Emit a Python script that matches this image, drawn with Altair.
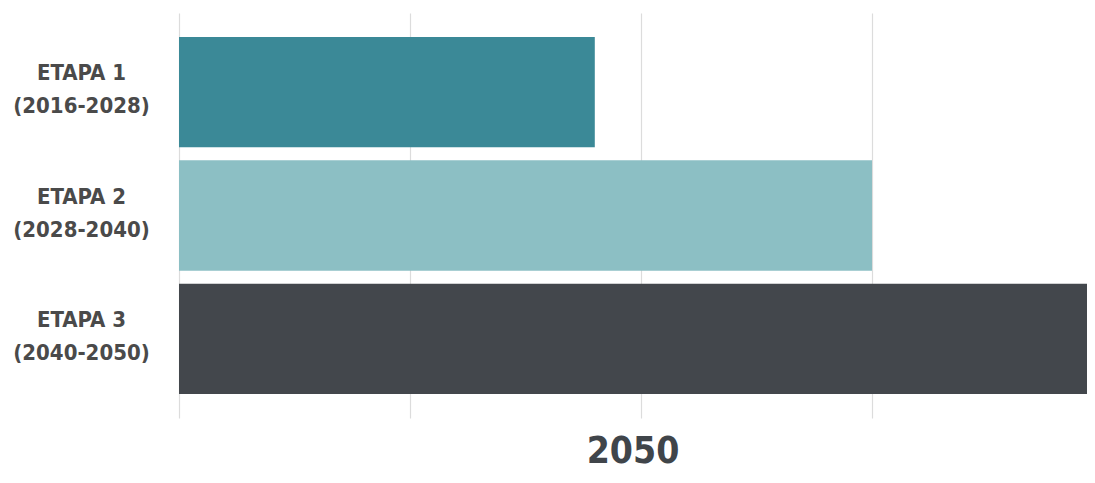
import altair as alt
import pandas as pd

stages = ["ETAPA 1|(2016-2028)", "ETAPA 2|(2028-2040)", "ETAPA 3|(2040-2050)"]
values = [45, 75, 100]
colors = ["#3b8997", "#8cbfc4", "#43474c"]
grid_values = [0, 25, 50, 75]
title_text = "2050"

df = pd.DataFrame({"stage": stages, "value": values, "color": colors})

FONT = "DejaVu Sans Condensed, DejaVu Sans, sans-serif"

chart = (
    alt.Chart(df)
    .mark_bar(clip=True)
    .encode(
        x=alt.X(
            "value:Q",
            scale=alt.Scale(domain=[0, 98.27], nice=False, zero=True),
            axis=alt.Axis(
                values=grid_values,
                labels=False,
                ticks=False,
                domain=False,
                grid=True,
                gridColor="#dcdcdc",
                gridWidth=1.2,
                title=None,
            ),
        ),
        y=alt.Y(
            "stage:N",
            sort=stages,
            scale=alt.Scale(paddingInner=0.106, paddingOuter=0.195),
            axis=alt.Axis(
                title=None,
                ticks=False,
                domain=False,
                labelExpr="split(datum.label, '|')",
                labelFont=FONT,
                labelFontWeight="bold",
                labelFontSize=22,
                labelLineHeight=33,
                labelColor="#4a4a4a",
                labelPadding=98,
                labelAlign="center",
                labelBaseline="middle",
                labelOffset=-19,
            ),
        ),
        color=alt.Color("color:N", scale=None, legend=None),
    )
    .properties(
        width=908,
        height=405,
        autosize=alt.AutoSizeParams(type="none"),
        padding={"left": 171, "top": 5, "right": 0, "bottom": 57},
        title=alt.TitleParams(
            text=title_text,
            orient="bottom",
            anchor="middle",
            font=FONT,
            fontSize=37,
            fontWeight="bold",
            color="#40454a",
            offset=16,
        ),
    )
    .configure_view(stroke=None)
)

chart.save("out.html", embed_options={"renderer": "svg", "actions": False})
